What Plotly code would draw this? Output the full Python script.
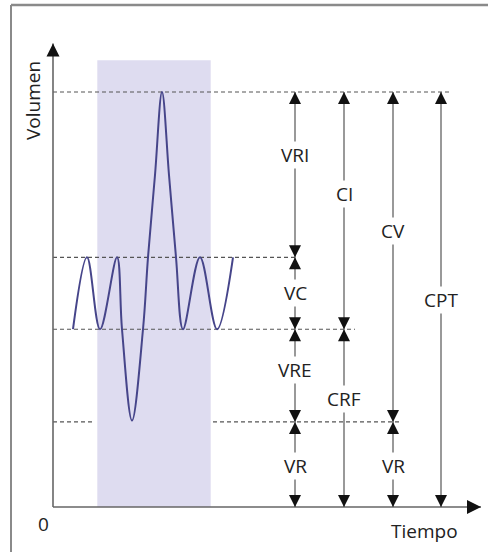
import plotly.graph_objects as go

# ---------------- data (time: arbitrary units, volume: litres) ----------------
VR = 1.23        # residual volume level
FRC = 2.57       # functional residual capacity level
VT_TOP = 3.61    # end of normal inspiration
TLC = 6.0        # total lung capacity

wave_t = [2.0, 3.4, 4.7, 6.4, 6.9, 7.9, 9.0, 9.5, 10.2, 10.9, 11.6, 12.3, 13.0, 14.7, 16.4, 18.0]
wave_v = [FRC, VT_TOP, FRC, VT_TOP, FRC, 1.25, FRC, VT_TOP, 4.8, TLC, 4.8, VT_TOP, FRC, VT_TOP, FRC, VT_TOP]

shade_t = [4.43, 15.77]
shade_top = 6.46

ref_level = [TLC, VT_TOP, FRC, VR, VR]
ref_start = [0.0, 0.0, 0.0, 0.0, 16.0]
ref_end = [39.7, 24.3, 30.2, 4.2, 34.9]

arrow_x = [24.2, 24.2, 24.2, 24.2, 29.1, 29.1, 34.0, 34.0, 38.8]
arrow_top = [TLC, VT_TOP, FRC, VR, TLC, FRC, TLC, VR, TLC]
arrow_bot = [VT_TOP, FRC, VR, 0.0, FRC, 0.0, VR, 0.0, 0.0]
arrow_lab = ["VRI", "VC", "VRE", "VR", "CI", "CRF", "CV", "VR", "CPT"]
label_frac = [0.38, 0.49, 0.44, 0.52, 0.43, 0.39, 0.42, 0.52, 0.50]

x_tip = 42.8
y_tip = 6.7

# ---------------- figure ----------------
W, H = 488, 552
X_RANGE = [-5.3, 43.5]
Y_RANGE = [-0.6506, 7.33]

fig = go.Figure()

# shaded forced-breathing zone
fig.add_shape(type="rect", xref="x", yref="y", x0=shade_t[0], x1=shade_t[1], y0=0, y1=shade_top,
              fillcolor="#dedcf0", line_width=0, layer="below")

# dashed reference levels
dx, dy = [], []
for lv, a, b in zip(ref_level, ref_start, ref_end):
    dx += [a, b, None]
    dy += [lv, lv, None]
fig.add_trace(go.Scatter(x=dx, y=dy, mode="lines",
                         line=dict(color="#555555", width=1.2, dash="4px,3px"), hoverinfo="skip"))

# axes
fig.add_trace(go.Scatter(x=[0, 0, None, 0, x_tip], y=[y_tip, 0, None, 0, 0], mode="lines",
                         line=dict(color="#666666", width=1.6), hoverinfo="skip"))
fig.add_trace(go.Scatter(x=[0], y=[y_tip], mode="markers", hoverinfo="skip",
                         marker=dict(symbol="arrow-up", size=13, color="#111111", line_width=0)))
fig.add_trace(go.Scatter(x=[x_tip], y=[0], mode="markers", hoverinfo="skip",
                         marker=dict(symbol="arrow-right", size=14, color="#111111", line_width=0)))

# spirogram
fig.add_trace(go.Scatter(x=wave_t, y=wave_v, mode="lines",
                         line=dict(color="#46458a", width=2.0, shape="spline", smoothing=1.0),
                         hoverinfo="skip"))

# arrow shafts
sx, sy = [], []
for x, a, b in zip(arrow_x, arrow_top, arrow_bot):
    sx += [x, x, None]
    sy += [a, b, None]
fig.add_trace(go.Scatter(x=sx, y=sy, mode="lines", line=dict(color="#555555", width=1.2),
                         hoverinfo="skip"))
fig.add_trace(go.Scatter(x=arrow_x, y=arrow_top, mode="markers", hoverinfo="skip",
                         marker=dict(symbol="arrow-up", size=12, color="#111111", line_width=0)))
fig.add_trace(go.Scatter(x=arrow_x, y=arrow_bot, mode="markers", hoverinfo="skip",
                         marker=dict(symbol="arrow-down", size=12, color="#111111", line_width=0)))

FONT = dict(family="Open Sans, Noto Sans, DejaVu Sans", size=19, color="#222222")
for x, a, b, lab, f in zip(arrow_x, arrow_top, arrow_bot, arrow_lab, label_frac):
    fig.add_annotation(x=x, y=a - (a - b) * f, xref="x", yref="y", text=lab, showarrow=False,
                       font=FONT, bgcolor="white", borderpad=0)

# axis titles
fig.add_annotation(x=-2.0, y=5.87, xref="x", yref="y", text="Volumen", textangle=-90,
                   showarrow=False, font=FONT)
fig.add_annotation(x=-1.0, y=-0.25, xref="x", yref="y", text="0", showarrow=False, font=FONT)
fig.add_annotation(x=37.1, y=-0.35, xref="x", yref="y", text="Tiempo", showarrow=False, font=FONT)

# outer frame
fig.add_shape(type="line", xref="paper", yref="paper", x0=11 / W, x1=1.0, y0=1 - 5 / H, y1=1 - 5 / H,
              line=dict(color="#8a8a8a", width=2.5))
fig.add_shape(type="line", xref="paper", yref="paper", x0=11 / W, x1=11 / W, y0=0.0, y1=1 - 5 / H,
              line=dict(color="#8a8a8a", width=2))

fig.update_layout(width=W, height=H, margin=dict(l=0, r=0, t=0, b=0),
                  paper_bgcolor="white", plot_bgcolor="white", showlegend=False,
                  xaxis=dict(range=X_RANGE, visible=False, fixedrange=True),
                  yaxis=dict(range=Y_RANGE, visible=False, fixedrange=True))

fig.write_html("out.html", include_plotlyjs=True, config={"displayModeBar": False},
               post_script="document.body.style.margin='0';document.body.style.overflow='hidden';")
